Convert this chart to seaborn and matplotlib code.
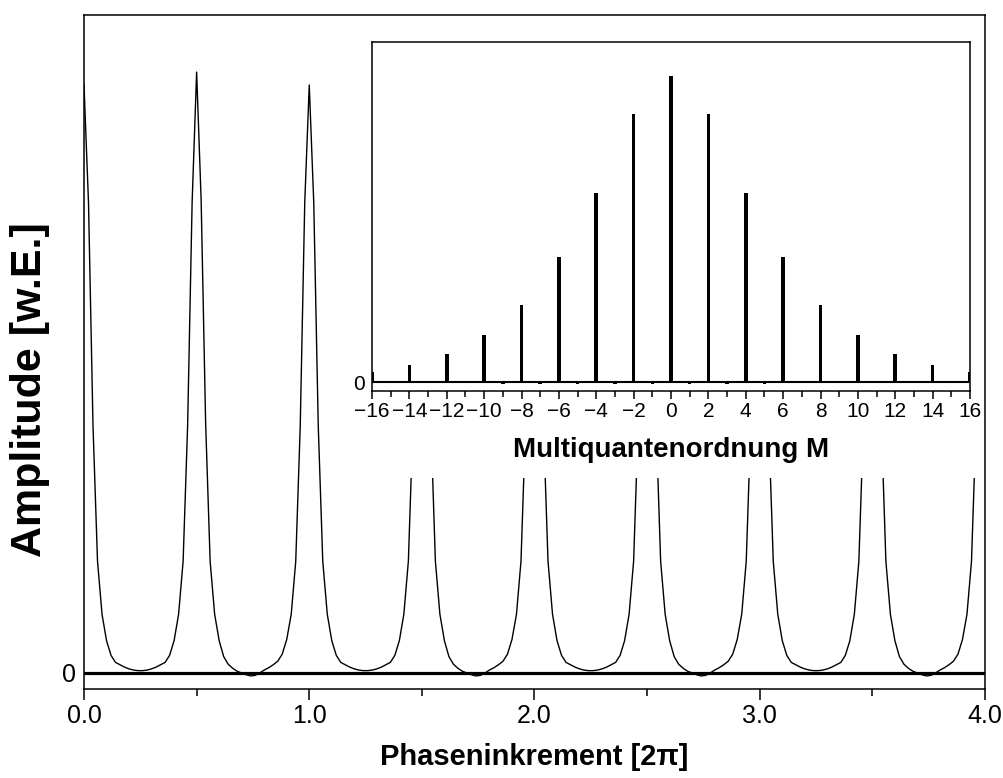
import numpy as np
import matplotlib
matplotlib.use("Agg")
import matplotlib.pyplot as plt
from matplotlib.patches import Rectangle
from matplotlib.ticker import MultipleLocator
import seaborn as sns

# ---------------- data ----------------
# main trace: phase increment (units of 2*pi), sampled every 0.02
phase_increment = np.round(np.arange(201) * 0.02, 2)
amplitude = [
    # 0.00 - 0.48
    1.000, 0.800, 0.420, 0.190, 0.100, 0.055, 0.030, 0.018, 0.014, 0.010, 0.007, 0.005, 0.004,
    0.004, 0.005, 0.007, 0.010, 0.014, 0.018, 0.030, 0.055, 0.100, 0.190, 0.420, 0.800,
    # 0.50 - 0.98
    1.022, 0.805, 0.425, 0.190, 0.100, 0.055, 0.028, 0.015, 0.008, 0.003, 0.000, -0.003, -0.005,
    -0.004, 0.000, 0.005, 0.009, 0.014, 0.020, 0.032, 0.057, 0.100, 0.190, 0.420, 0.800,
    # 1.00 - 1.48
    1.000, 0.800, 0.420, 0.190, 0.100, 0.055, 0.030, 0.018, 0.014, 0.010, 0.007, 0.005, 0.004,
    0.004, 0.005, 0.007, 0.010, 0.014, 0.018, 0.030, 0.055, 0.100, 0.190, 0.420, 0.800,
    # 1.50 - 1.98
    1.022, 0.805, 0.425, 0.190, 0.100, 0.055, 0.028, 0.015, 0.008, 0.003, 0.000, -0.003, -0.005,
    -0.004, 0.000, 0.005, 0.009, 0.014, 0.020, 0.032, 0.057, 0.100, 0.190, 0.420, 0.800,
    # 2.00 - 2.48
    1.000, 0.800, 0.420, 0.190, 0.100, 0.055, 0.030, 0.018, 0.014, 0.010, 0.007, 0.005, 0.004,
    0.004, 0.005, 0.007, 0.010, 0.014, 0.018, 0.030, 0.055, 0.100, 0.190, 0.420, 0.800,
    # 2.50 - 2.98
    1.022, 0.805, 0.425, 0.190, 0.100, 0.055, 0.028, 0.015, 0.008, 0.003, 0.000, -0.003, -0.005,
    -0.004, 0.000, 0.005, 0.009, 0.014, 0.020, 0.032, 0.057, 0.100, 0.190, 0.420, 0.800,
    # 3.00 - 3.48
    1.000, 0.800, 0.420, 0.190, 0.100, 0.055, 0.030, 0.018, 0.014, 0.010, 0.007, 0.005, 0.004,
    0.004, 0.005, 0.007, 0.010, 0.014, 0.018, 0.030, 0.055, 0.100, 0.190, 0.420, 0.800,
    # 3.50 - 3.98
    1.022, 0.805, 0.425, 0.190, 0.100, 0.055, 0.028, 0.015, 0.008, 0.003, 0.000, -0.003, -0.005,
    -0.004, 0.000, 0.005, 0.009, 0.014, 0.020, 0.032, 0.057, 0.100, 0.190, 0.420, 0.800,
    # 4.00
    1.000,
]

# inset: multiple-quantum order spectrum
mq_order = list(range(-16, 17))
mq_intensity = [
    0.033, 0.004, 0.056, 0.003, 0.092, -0.004, 0.154, -0.005, 0.252, -0.005, 0.408, -0.005,
    0.618, -0.005, 0.876, -0.005, 1.000, -0.005, 0.876, -0.005, 0.618, -0.005, 0.408, 0.003,
    0.252, 0.003, 0.154, -0.004, 0.092, 0.003, 0.056, 0.004, 0.033,
]

main_xticks = [0, 1, 2, 3, 4]
main_xticklabels = ["0.0", "1.0", "2.0", "3.0", "4.0"]
inset_xticks = list(range(-16, 17, 2))
inset_xticklabels = [("\u2212" + str(-t)) if t < 0 else str(t) for t in inset_xticks]

# ---------------- style ----------------
sns.set_theme(style="ticks", rc={
    "axes.edgecolor": "black", "axes.labelcolor": "black", "text.color": "black",
    "xtick.color": "black", "ytick.color": "black", "axes.linewidth": 1.1,
})
plt.rcParams["font.family"] = ["Liberation Sans", "DejaVu Sans"]

W, H = 1004, 778
fig = plt.figure(figsize=(W / 100, H / 100), dpi=100)

# ---------------- main axes ----------------
ax = fig.add_axes([84 / W, (H - 689) / H, 901 / W, 674 / H])
sns.lineplot(x=phase_increment, y=amplitude, color="black", lw=1.0, ax=ax)
ax.axhline(0, color="black", lw=2.3, zorder=3)
ax.set_xlim(0, 4)
ax.set_ylim(-16 / 588, 658 / 588)
ax.set_xticks(main_xticks)
ax.set_xticklabels(main_xticklabels)
ax.xaxis.set_minor_locator(MultipleLocator(0.5))
ax.tick_params(axis="x", which="major", direction="out", length=8, width=1.1,
               labelsize=18, pad=3, bottom=True, top=False)
ax.tick_params(axis="x", which="minor", direction="out", length=5, width=1.1,
               bottom=True, top=False)
ax.set_yticks([0])
ax.set_yticklabels(["0"])
ax.tick_params(axis="y", length=0, labelsize=18, pad=6, left=True)
for s in ax.spines.values():
    s.set_visible(True)
    s.set_linewidth(1.1)
    s.set_color("black")
    s.set_zorder(6)
ax.set_xlabel("Phaseninkrement [2\u03c0]", fontsize=21, fontweight="bold")
ax.xaxis.set_label_coords(0.5, (689 - 743) / 674)
ax.set_ylabel("Amplitude [w.E.]", fontsize=31, fontweight="bold")
ax.yaxis.set_label_coords((50 - 84) / 901, (689 - 390) / 674)

# white area behind the inset (hides the trace under the inset and its labels)
ax.add_patch(Rectangle(((345 - 84) / 901, (689 - 478) / 674), (985 - 345) / 901,
                       (478 - 35) / 674, transform=ax.transAxes,
                       facecolor="white", edgecolor="none", zorder=4))

# ---------------- inset ----------------
ins = fig.add_axes([372 / W, (H - 391) / H, 598 / W, 349 / H])
ins.set_zorder(5)
ins.set_facecolor("white")
sns.barplot(x=mq_order, y=mq_intensity, native_scale=True, width=0.19, color="black",
            saturation=1, linewidth=0, errorbar=None, ax=ins)
ins.axhline(0, color="black", lw=1.5, zorder=3)
ins.set_xlim(-16, 16)
ins.set_ylim(-9 / 306, 340 / 306)
ins.set_xticks(inset_xticks)
ins.set_xticklabels(inset_xticklabels)
ins.xaxis.set_minor_locator(MultipleLocator(1))
ins.tick_params(axis="x", which="major", direction="out", length=6, width=1.1,
                labelsize=15, pad=2, bottom=True, top=False)
ins.tick_params(axis="x", which="minor", direction="out", length=4, width=1.1,
                bottom=True, top=False)
ins.set_yticks([0])
ins.set_yticklabels(["0"])
ins.tick_params(axis="y", length=0, labelsize=15, pad=5, left=True)
for s in ins.spines.values():
    s.set_visible(True)
    s.set_linewidth(1.1)
    s.set_color("black")
ins.set_xlabel("Multiquantenordnung M", fontsize=20, fontweight="bold")
ins.xaxis.set_label_coords(0.5, (391 - 437) / 349)
ins.set_ylabel("")

fig.savefig("out.png", dpi=100)
